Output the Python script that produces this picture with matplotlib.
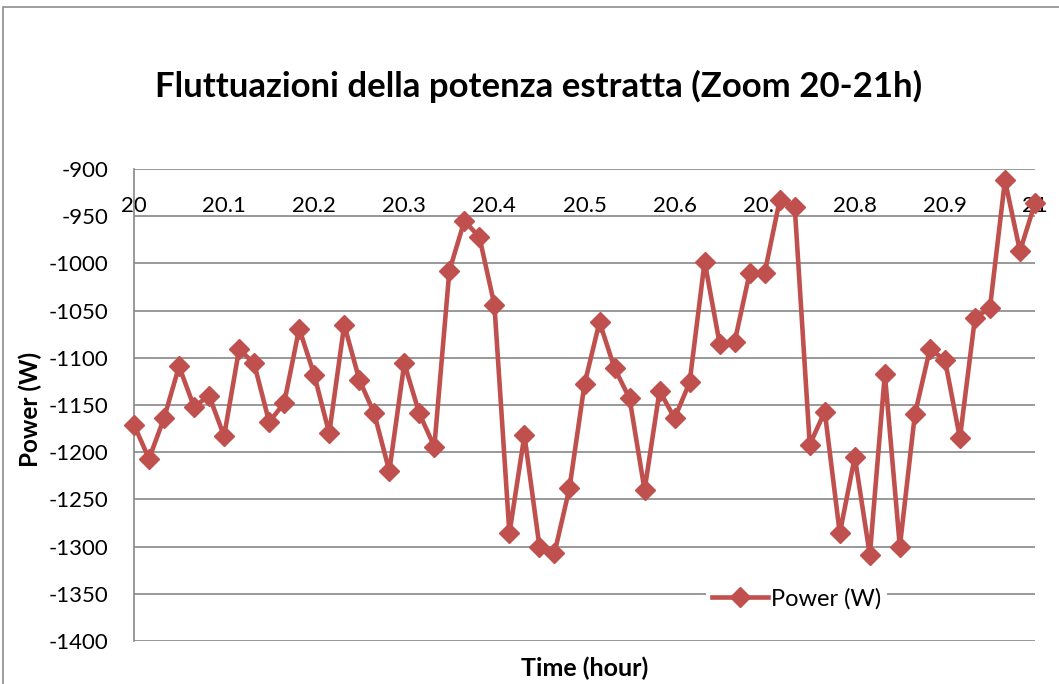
import matplotlib
matplotlib.use("Agg")
import matplotlib.pyplot as plt
from matplotlib.patches import Rectangle

plt.rcParams['font.family'] = ['Lato', 'DejaVu Sans']

# Data (time in hours, one point per minute)
minutes = list(range(61))
time_h = [20 + m / 60 for m in minutes]
power_w = [-1171, -1207, -1164, -1109, -1152, -1140, -1183, -1091, -1106, -1168,
           -1148, -1069, -1118, -1180, -1065, -1123, -1159, -1220, -1106, -1159,
           -1194, -1008, -955, -972, -1044, -1286, -1182, -1300, -1307, -1238,
           -1128, -1062, -1111, -1143, -1240, -1135, -1164, -1126, -998, -1085,
           -1083, -1010, -1010, -933, -940, -1192, -1157, -1286, -1205, -1309,
           -1117, -1300, -1160, -1091, -1102, -1185, -1058, -1047, -912, -987,
           -936]
xticks = [20, 20.1, 20.2, 20.3, 20.4, 20.5, 20.6, 20.7, 20.8, 20.9, 21]
xtick_labels = ['20', '20.1', '20.2', '20.3', '20.4', '20.5', '20.6', '20.7', '20.8', '20.9', '21']
yticks = [-900, -950, -1000, -1050, -1100, -1150, -1200, -1250, -1300, -1350, -1400]

W, H = 1059, 684
fig = plt.figure(figsize=(W / 100, H / 100), dpi=100)
fig.patch.set_facecolor('white')

# chart-area border (partially cropped)
fig.patches.append(Rectangle((3 / W, -0.1), 2.0, 1 - 7 / H + 0.1, transform=fig.transFigure,
                             fill=False, edgecolor='#8c8c8c', linewidth=1.2))

ax = fig.add_axes([134 / W, 1 - 641 / H, (1035 - 134) / W, (641 - 169) / H])
ax.set_xlim(20, 21)
ax.set_ylim(-1400, -900)

ax.set_yticks(yticks)
ax.set_yticklabels([str(v) for v in yticks])
ax.yaxis.grid(True, color='#878787', linewidth=1.2)
ax.set_axisbelow(True)

ax.set_xticks(xticks)
ax.set_xticklabels(xtick_labels)
ax.tick_params(axis='x', top=False, bottom=False, labeltop=True, labelbottom=False,
               pad=-37, labelsize=16)
ax.tick_params(axis='y', left=False, labelsize=16, pad=15)

for s in ['right', 'bottom', 'top']:
    ax.spines[s].set_visible(False)
ax.spines['left'].set_color('#878787')
ax.spines['left'].set_linewidth(1.2)

line, = ax.plot(time_h, power_w, color='#C0504D', linewidth=3.3, marker='D',
                markersize=10.5, markerfacecolor='#C0504D', markeredgecolor='#C0504D',
                label='Power (W)', clip_on=False, zorder=3)

leg = ax.legend(loc='center', bbox_to_anchor=(0.735, 0.089), frameon=True,
                fontsize=17, handlelength=2.4, handletextpad=0.1, borderpad=0.25)
leg.get_frame().set_facecolor('white')
leg.get_frame().set_edgecolor('none')
leg.get_frame().set_alpha(1)

fig.text(539 / W, 1 - 86 / H, 'Fluttuazioni della potenza estratta (Zoom 20-21h)',
         ha='center', va='center', fontsize=25, fontweight='bold')
ax.set_xlabel('Time (hour)', fontsize=18, fontweight='bold', va='center')
ax.xaxis.set_label_coords(0.50, -0.057)
ax.set_ylabel('Power (W)', fontsize=17.5, fontweight='bold', va='center')
ax.yaxis.set_label_coords(-0.1154, 0.49)

fig.savefig('out.png', dpi=100)
